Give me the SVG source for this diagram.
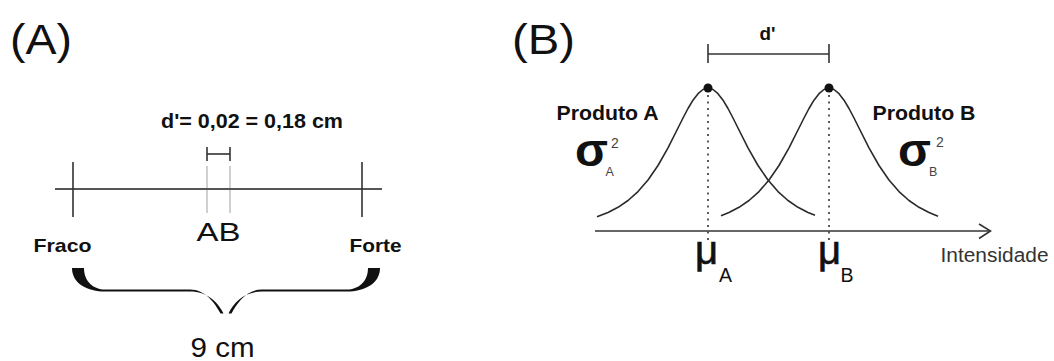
<svg xmlns="http://www.w3.org/2000/svg" xmlns:xlink="http://www.w3.org/1999/xlink" width="1054" height="361" viewBox="0 0 1054 361">
<style>
text{font-family:"Liberation Sans",Arial,sans-serif;fill:#111}
.b{font-weight:bold}
.ln{stroke:#333;stroke-width:1.6;fill:none}
.gr{stroke:#c4c4c4;stroke-width:1.6;fill:none}
.cv{stroke:#2a2a2a;stroke-width:1.6;fill:none;stroke-linejoin:round}
.dot{stroke:#333;stroke-width:1.6;stroke-dasharray:2 4.5;fill:none}
.mu{stroke:#111;stroke-width:0.7}
</style>
<defs>
<path id="brace" fill="#111" d="M72,268 C72,284 88,291.5 105,291.5 L190,291.5 C207,291.5 218,302 223.5,313.5 L220.5,313.5 C215,303 205,289.5 190,289.5 L105,289.5 C94,289.5 84,282 84,268 Z"/>
</defs>
<g id="panel-a">
<text x="10" y="54" font-size="42" textLength="62" lengthAdjust="spacingAndGlyphs">(A)</text>
<g id="dprime-a"><text class="b" x="161" y="128" font-size="19.5" textLength="182" lengthAdjust="spacingAndGlyphs">d'= 0,02 = 0,18 cm</text></g>
<g id="scale-line">
<line class="ln" x1="207" y1="154" x2="230" y2="154"/>
<line class="ln" x1="207" y1="147" x2="207" y2="161"/>
<line class="ln" x1="230" y1="147" x2="230" y2="161"/>
<line class="gr" x1="207" y1="166" x2="207" y2="213"/>
<line class="gr" x1="230" y1="166" x2="230" y2="213"/>
<line x1="55" y1="189" x2="382" y2="189" stroke="#555" stroke-width="2"/>
<line class="ln" x1="73" y1="162" x2="73" y2="217"/>
<line class="ln" x1="362" y1="162" x2="362" y2="217"/>
</g>
<g id="ab-label"><text x="196.5" y="241" font-size="26" textLength="44" lengthAdjust="spacingAndGlyphs">AB</text></g>
<g id="fraco"><text class="b" x="33.5" y="252" font-size="18.5" textLength="58" lengthAdjust="spacingAndGlyphs">Fraco</text></g>
<g id="forte"><text class="b" x="349.5" y="252" font-size="18.5" textLength="52" lengthAdjust="spacingAndGlyphs">Forte</text></g>
<g id="brace-9cm">
<use xlink:href="#brace"/>
<use xlink:href="#brace" transform="translate(452,0) scale(-1,1)"/>
<text x="190.5" y="357" font-size="28" textLength="64" lengthAdjust="spacingAndGlyphs">9 cm</text>
</g>
</g>
<g id="panel-b">
<text x="512" y="54" font-size="42" textLength="63" lengthAdjust="spacingAndGlyphs">(B)</text>
<g id="dprime-b">
<text class="b" x="759.5" y="40" font-size="19" textLength="16" lengthAdjust="spacingAndGlyphs">d'</text>
<line class="ln" x1="708" y1="54" x2="829" y2="54"/>
<line class="ln" x1="708" y1="44" x2="708" y2="63"/>
<line class="ln" x1="829" y1="44" x2="829" y2="63"/>
</g>
<g id="axis">
<line class="ln" x1="595" y1="231" x2="990" y2="231"/>
<polyline class="ln" points="979,224 990.5,231 979,238.5"/>
<text x="940.5" y="262" font-size="20" textLength="108" lengthAdjust="spacingAndGlyphs" style="fill:#333">Intensidade</text>
</g>
<g id="produto-a">
<polyline class="cv" points="597,216.7 608,212.5 618,207.3 628,200.5 638,191.6 648,180 658,165.5 668,147.8 678,128 683,118 688,108.5 693,100.2 698,93.7 703,89.5 708,88 713,89.5 718,93.7 723,100.2 728,108.5 733,118 738,128 748,147.8 758,165.5 768,180 778,191.6 788,200.5 798,207.3 808,212.5 815,215.3"/>
<circle cx="708" cy="88" r="4.5" fill="#111"/>
<line class="dot" x1="708" y1="95" x2="708" y2="242"/>
<text class="b" x="556.5" y="120" font-size="19.5" textLength="102" lengthAdjust="spacingAndGlyphs">Produto A</text>
<text class="b" x="575" y="166" font-size="46" textLength="33" lengthAdjust="spacingAndGlyphs">σ</text>
<text x="611" y="148" font-size="14" style="fill:#444">2</text>
<text x="605.5" y="176" font-size="12.5" style="fill:#444">A</text>
<text class="mu" x="695" y="264" font-size="40">μ</text>
<text x="719" y="282" font-size="19.5">A</text>
</g>
<g id="produto-b">
<polyline class="cv" points="721,215.7 729,212.5 739,207.3 749,200.5 759,191.6 769,180 779,165.5 789,147.8 799,128 804,118 809,108.5 814,100.2 819,93.7 824,89.5 829,88 834,89.5 839,93.7 844,100.2 849,108.5 854,118 859,128 869,147.8 879,165.5 889,180 899,191.6 909,200.5 919,207.3 929,212.5 938,216.2"/>
<circle cx="829" cy="88" r="4.5" fill="#111"/>
<line class="dot" x1="829" y1="95" x2="829" y2="242"/>
<text class="b" x="872.5" y="120" font-size="19.5" textLength="103" lengthAdjust="spacingAndGlyphs">Produto B</text>
<text class="b" x="898" y="166" font-size="46" textLength="33" lengthAdjust="spacingAndGlyphs">σ</text>
<text x="936" y="147" font-size="14" style="fill:#444">2</text>
<text x="929" y="176" font-size="12.5" style="fill:#444">B</text>
<text class="mu" x="818" y="264" font-size="40">μ</text>
<text x="840.5" y="282" font-size="19.5">B</text>
</g>
</g>
</svg>
